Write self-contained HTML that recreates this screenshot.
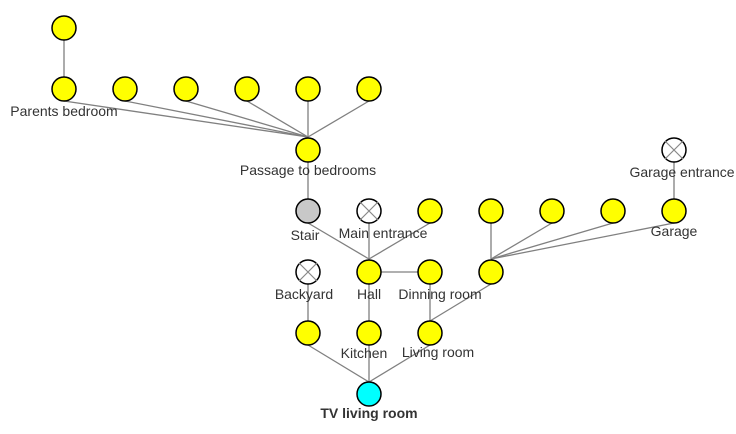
<!DOCTYPE html>
<html><head><meta charset="utf-8"><style>body{margin:0;background:#fff}</style></head><body>
<svg width="736" height="434" xmlns="http://www.w3.org/2000/svg" style="display:block">
<g stroke="#808080" stroke-width="1.3" fill="none">
<line x1="64" y1="40" x2="64" y2="77"/>
<line x1="64" y1="101" x2="308" y2="137"/>
<line x1="125" y1="101" x2="308" y2="137"/>
<line x1="186" y1="101" x2="308" y2="137"/>
<line x1="247" y1="101" x2="308" y2="137"/>
<line x1="308" y1="101" x2="308" y2="137"/>
<line x1="369" y1="101" x2="308" y2="137"/>
<line x1="308" y1="162" x2="308" y2="199"/>
<line x1="308" y1="223" x2="369" y2="259"/>
<line x1="369" y1="223" x2="369" y2="259"/>
<line x1="430" y1="223" x2="369" y2="259"/>
<line x1="381" y1="272" x2="418" y2="272"/>
<line x1="491" y1="223" x2="491" y2="259"/>
<line x1="552" y1="223" x2="491" y2="259"/>
<line x1="613" y1="223" x2="491" y2="259"/>
<line x1="674" y1="223" x2="491" y2="259"/>
<line x1="674" y1="162" x2="674" y2="199"/>
<line x1="308" y1="284" x2="308" y2="321"/>
<line x1="369" y1="284" x2="369" y2="321"/>
<line x1="430" y1="284" x2="430" y2="321"/>
<line x1="491" y1="284" x2="430" y2="321"/>
<line x1="308" y1="345" x2="369" y2="382"/>
<line x1="369" y1="345" x2="369" y2="382"/>
<line x1="430" y1="345" x2="369" y2="382"/>
</g>
<g stroke="#000" stroke-width="1.5" fill="#ffff00">
<circle cx="64" cy="28" r="12"/>
<circle cx="64" cy="89" r="12"/><circle cx="125" cy="89" r="12"/><circle cx="186" cy="89" r="12"/><circle cx="247" cy="89" r="12"/><circle cx="308" cy="89" r="12"/><circle cx="369" cy="89" r="12"/>
<circle cx="308" cy="150" r="12"/>
<circle cx="308" cy="211" r="12" fill="#c8c8c8"/>
<circle cx="430" cy="211" r="12"/><circle cx="491" cy="211" r="12"/><circle cx="552" cy="211" r="12"/><circle cx="613" cy="211" r="12"/><circle cx="674" cy="211" r="12"/>
<circle cx="369" cy="272" r="12"/><circle cx="430" cy="272" r="12"/><circle cx="491" cy="272" r="12"/>
<circle cx="308" cy="333" r="12"/><circle cx="369" cy="333" r="12"/><circle cx="430" cy="333" r="12"/>
<circle cx="369" cy="394" r="12" fill="#00ffff"/>
</g>
<g stroke="#000" stroke-width="1.5" fill="#fff">
<circle cx="369" cy="211" r="12"/><circle cx="674" cy="150" r="12"/><circle cx="308" cy="272" r="12"/>
</g>
<g stroke="#888" stroke-width="1.2">
<path d="M360,202 L378,220 M378,202 L360,220"/>
<path d="M665,141 L683,159 M683,141 L665,159"/>
<path d="M299,263 L317,281 M317,263 L299,281"/>
</g>
<g font-family="Liberation Sans, sans-serif" font-size="14" fill="#333" text-anchor="middle">
<text x="64" y="116">Parents bedroom</text>
<text x="308" y="175">Passage to bedrooms</text>
<text x="305" y="240">Stair</text>
<text x="383" y="238">Main entrance</text>
<text x="682" y="177">Garage entrance</text>
<text x="674" y="236">Garage</text>
<text x="304" y="299">Backyard</text>
<text x="369" y="299">Hall</text>
<text x="440" y="299">Dinning room</text>
<text x="364" y="358">Kitchen</text>
<text x="438" y="357">Living room</text>
<text x="369" y="418" font-weight="bold">TV living room</text>
</g>
</svg>
</body></html>
